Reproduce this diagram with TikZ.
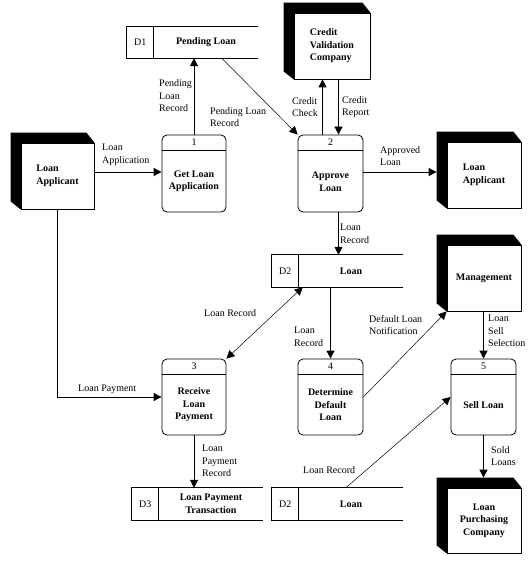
\documentclass[tikz,border=0pt]{standalone}
\usepackage{fontspec}
\setmainfont{Liberation Serif}
\usetikzlibrary{arrows.meta,calc,backgrounds}
\newcommand\entshadow[1]{%
  \begin{scope}[on background layer]
    \fill ($(#1.north west)+(-10,-10)$) -- ($(#1.north east)+(-8,-10)$) -- (#1.north east)
      -- (#1.south west) -- ($(#1.south west)+(-10,-8)$) -- cycle;
  \end{scope}}
\newcommand\storeparts[3]{%
  \draw[line width=0.8pt] (#1.north east) -- (#1.north west) -- (#1.south west) -- (#1.south east);
  \draw[line width=0.8pt] ($(#1.north west)+(27,0)$) -- ($(#1.south west)+(27,0)$);
  \node[inner sep=0pt] (#1id) at ($(#1.west)+(13.5,0)$) {#2};
  \node[ptext] (#1t) at ($(#1.center)+(13.5,0)$) {#3};}
\newcommand\procparts[3]{%
  \draw[line width=0.8pt] ($(#1.north west)+(0,16)$) -- ($(#1.north east)+(0,16)$);
  \node[inner sep=0pt] (#1n) at ($(#1.north)+(0,8)$) {#2};
  \node[ptext] (#1t) at ($(#1.center)+(0,8)$) {#3};}
\begin{document}
\begin{tikzpicture}[x=1pt,y=-1pt,
  every node/.style={font=\fontsize{10}{12.5}\selectfont},
  lbl/.style={anchor=west,inner sep=0pt,align=left},
  entity/.style={draw,fill=white,line width=0.8pt,minimum width=74pt,minimum height=66pt,inner sep=0pt,
    font=\fontsize{10}{12.5}\selectfont\bfseries,align=left},
  proc/.style={draw,rounded corners=5pt,line width=0.8pt,minimum width=65pt,minimum height=77pt,inner sep=0pt},
  ptext/.style={font=\fontsize{10}{12.5}\selectfont\bfseries,align=center,inner sep=0pt},
  store/.style={minimum width=131pt,minimum height=32pt,inner sep=0pt},
  flow/.style={line width=0.8pt,-{Triangle[length=8pt,width=8pt]}},
  thinflow/.style={line width=0.5pt,-{Triangle[length=8pt,width=8pt]}}]
\useasboundingbox (0,0) rectangle (530,564);

% external entities
\node[entity,minimum width=73pt] (la1) at (57.5,176) {Loan\\Applicant};
\entshadow{la1}
\node[entity,minimum width=76pt] (cvc) at (332,46) {Credit\\Validation\\Company};
\entshadow{cvc}
\node[entity] (la2) at (484,175) {Loan\\Applicant};
\entshadow{la2}
\node[entity] (mg) at (484,278) {Management};
\entshadow{mg}
\node[entity,minimum height=65pt,align=center] (lpc) at (484,520.5) {Loan\\Purchasing\\Company};
\entshadow{lpc}
\coordinate (la2edge) at ($(la2.west)+(-10,0)$);
\coordinate (lpcedge) at ($(lpc.north)+(0,-10)$);

% processes
\node[proc,minimum width=64pt] (p1) at (194,173.5) {};
\procparts{p1}{1}{Get Loan\\Application}
\node[proc] (p2) at (330.5,173.5) {};
\procparts{p2}{2}{Approve\\Loan}
\node[proc,minimum width=64pt,minimum height=76pt] (p3) at (194,397) {};
\procparts{p3}{3}{Receive\\Loan\\Payment}
\node[proc,minimum height=76pt] (p4) at (330.5,397) {};
\procparts{p4}{4}{Determine\\Default\\Loan}
\node[proc,minimum height=76pt] (p5) at (483.5,397) {};
\procparts{p5}{5}{Sell Loan}

% data stores
\node[store,minimum height=31pt] (ds1) at (192.5,42.5) {};
\storeparts{ds1}{D1}{Pending Loan}
\node[store] (ds2) at (337.5,271) {};
\storeparts{ds2}{D2}{Loan}
\node[store] (ds3) at (197.5,504) {};
\storeparts{ds3}{D3}{Loan Payment\\Transaction}
\node[store] (ds4) at (337.5,504) {};
\storeparts{ds4}{D2}{Loan}

% flows
\draw[flow] (la1.east |- 0,172) -- (p1.west |- 0,172);
\draw[flow] (la1.south) |- (p3.west);
\draw[flow] (p1.north) -- (p1.north |- ds1.south);
\draw[thinflow] ($(ds1.south west)+(95,0)$) -- (p2.north west);
\draw[flow] ([xshift=-8pt]p2.north) -- ([xshift=-8pt]p2.north |- cvc.south);
\draw[flow] ([xshift=8pt]p2.north |- cvc.south) -- ([xshift=8pt]p2.north);
\draw[flow] (p2.east |- 0,172) -- (la2edge |- 0,172);
\draw[flow] ([xshift=8pt]p2.south) -- ([xshift=8pt]p2.south |- ds2.north);
\draw[thinflow,{Triangle[length=8pt,width=8pt]}-{Triangle[length=8pt,width=8pt]}] ($(ds2.south west)+(31,0)$) -- (p3.north east);
\draw[flow] (p4.north |- ds2.south) -- (p4.north);
\draw[thinflow] (p4.east) -- (mg.south west);
\draw[flow] (p5.north |- mg.south) -- (p5.north);
\draw[thinflow] ($(ds4.north west)+(74,0)$) -- (p5.west);
\draw[flow] (p5.south) -- (p5.south |- lpcedge);
\draw[flow] (p3.south) -- (p3.south |- ds3.north);

% flow labels
\node[lbl] (l1) at (159,96) {Pending\\Loan\\Record};
\node[lbl] (l2) at (210,117) {Pending Loan\\Record};
\node[lbl] (l3) at (102,155) {Loan\\Application};
\node[lbl] (l4) at (292,107) {Credit\\Check};
\node[lbl] (l5) at (342,107) {Credit\\Report};
\node[lbl] (l6) at (380,156) {Approved\\Loan};
\node[lbl] (l7) at (340,234) {Loan\\Record};
\node[lbl] (l8) at (204,313) {Loan Record};
\node[lbl] (l9) at (78,389) {Loan Payment};
\node[lbl] (l10) at (294,337) {Loan\\Record};
\node[lbl] (l11) at (369,325) {Default Loan\\Notification};
\node[lbl] (l12) at (488,331) {Loan\\Sell\\Selection};
\node[lbl] (l13) at (202,461) {Loan\\Payment\\Record};
\node[lbl] (l14) at (491,456) {Sold\\Loans};
\node[lbl] (l15) at (303,470) {Loan Record};
\end{tikzpicture}
\end{document}
